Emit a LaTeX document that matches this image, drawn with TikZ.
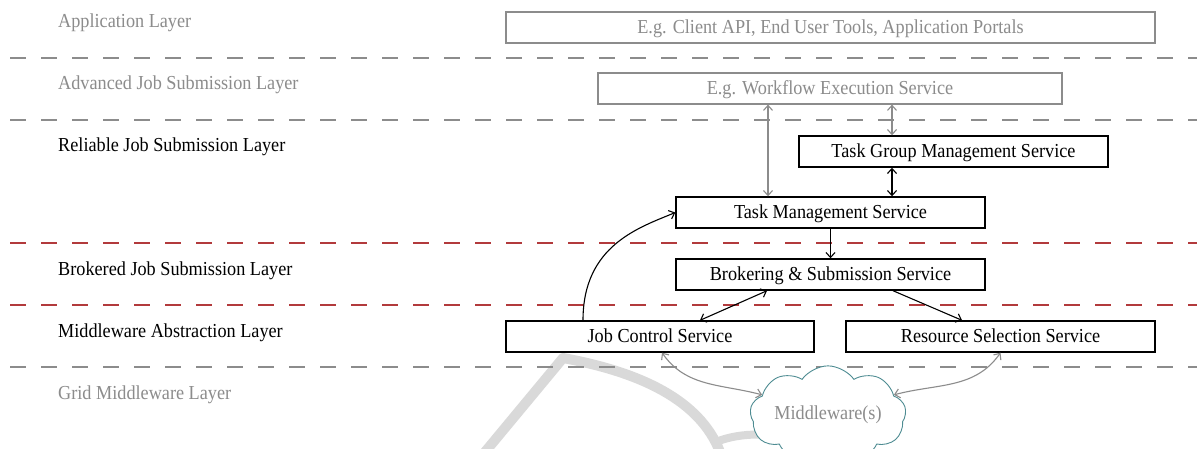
\documentclass[tikz,border=0pt]{standalone}
\usepackage{fontspec}
\setmainfont{Liberation Serif}[FakeStretch=0.92]
\usetikzlibrary{arrows.meta,shapes.symbols}
\definecolor{lyrgray}{HTML}{8C8C8C}
\definecolor{lyrred}{HTML}{B23A3C}
\definecolor{cloudline}{HTML}{4E8C92}
\definecolor{markgray}{HTML}{D9D9D9}
\tikzset{
  x=1pt, y=1pt,
  every node/.style={font=\fontsize{19.8}{22}\selectfont},
  sep/.style={line width=1.5pt, dash pattern=on 16pt off 15pt},
  graysep/.style={sep, draw=lyrgray},
  redsep/.style={sep, draw=lyrred},
  lyrlabel/.style={anchor=west, inner sep=0pt},
  svcbox/.style={draw, line width=1.4pt, minimum height=31pt, inner sep=0pt, fill=white,
                 text height=14pt, text depth=2.5pt},
  extbox/.style={svcbox, draw=lyrgray, text=lyrgray, line width=1.2pt},
  link/.style={line width=1.1pt, -{Straight Barb[length=5pt,width=9pt]}},
  dlink/.style={link, {Straight Barb[length=5pt,width=9pt]}-{Straight Barb[length=5pt,width=9pt]}},
}
\begin{document}
\begin{tikzpicture}
\useasboundingbox (0,0) rectangle (1197,-448);
\fill[white] (0,0) rectangle (1197,-448);

% faint background swoosh
\draw[markgray, line width=10pt, line cap=round, line join=round]
  (485,-452) -- (563,-358) .. controls (640,-372) and (700,-400) .. (720,-452);
\draw[markgray, line width=8pt, line cap=round]
  (716,-442) .. controls (740,-432) and (775,-432) .. (805,-442);

% layer separators
\draw[graysep] (10,-58) -- (1197,-58);
\draw[graysep] (10,-120) -- (1197,-120);
\draw[redsep] (10,-243) -- (1197,-243);
\draw[redsep] (10,-305) -- (1197,-305);
\draw[graysep] (10,-367) -- (1197,-367);

% layer names
\node[lyrlabel, text=lyrgray] (l1) at (58,-22.5) {Application Layer};
\node[lyrlabel, text=lyrgray] (l2) at (58,-84.5) {Advanced Job Submission Layer};
\node[lyrlabel] (l3) at (58,-146.5) {Reliable Job Submission Layer};
\node[lyrlabel] (l4) at (58,-270.5) {Brokered Job Submission Layer};
\node[lyrlabel] (l5) at (58,-332.5) {Middleware Abstraction Layer};
\node[lyrlabel, text=lyrgray] (l6) at (58,-394.5) {Grid Middleware Layer};

% services
\node[extbox, minimum width=649pt] (app) at (830.5,-27.5) {E.g. Client API, End User Tools, Application Portals};
\node[extbox, minimum width=464pt] (wf) at (830,-88.5) {E.g. Workflow Execution Service};
\node[svcbox, minimum width=309pt] (tgm) at (953.5,-151.5) {Task Group Management Service};
\node[svcbox, minimum width=309pt] (tm) at (830.5,-212.5) {Task Management Service};
\node[svcbox, minimum width=309pt] (bs) at (830.5,-274.5) {Brokering \& Submission Service};
\node[svcbox, minimum width=308pt] (jc) at (660,-336.5) {Job Control Service};
\node[svcbox, minimum width=309pt] (rs) at (1000.5,-336.5) {Resource Selection Service};
\node[cloud, cloud puffs=9, cloud puff arc=110, aspect=2, draw=cloudline, fill=white, line width=0.9pt,
      text=lyrgray, minimum width=134pt, minimum height=72pt, inner sep=0pt] (mw) at (828,-415) {Middleware(s)};

% connectors
\draw[dlink, lyrgray] ([xshift=-62pt]wf.south) -- ([xshift=-62.5pt]tm.north);
\draw[dlink, lyrgray] ([xshift=62pt]wf.south) -- ([xshift=-61.5pt]tgm.north);
\draw[dlink] ([xshift=-61.5pt]tgm.south) -- ([xshift=61.5pt]tm.north);
\draw[link] (tm.south) -- (bs.north);
\draw[dlink] ([xshift=-63.5pt]bs.south) -- ([xshift=40pt]jc.north);
\draw[link] ([xshift=62.5pt]bs.south) -- ([xshift=-38.5pt]rs.north);
\draw[link] ([xshift=-77pt]jc.north) .. controls ([xshift=-77pt,yshift=75pt]jc.north) and ([xshift=-36pt,yshift=-15pt]tm.west) .. (tm.west);
\draw[dlink, lyrgray] ([xshift=2pt]jc.south) to[out=-55, in=165] (mw.163);
\draw[dlink, lyrgray] (rs.south) to[out=-125, in=15] (mw.17);
\end{tikzpicture}
\end{document}
